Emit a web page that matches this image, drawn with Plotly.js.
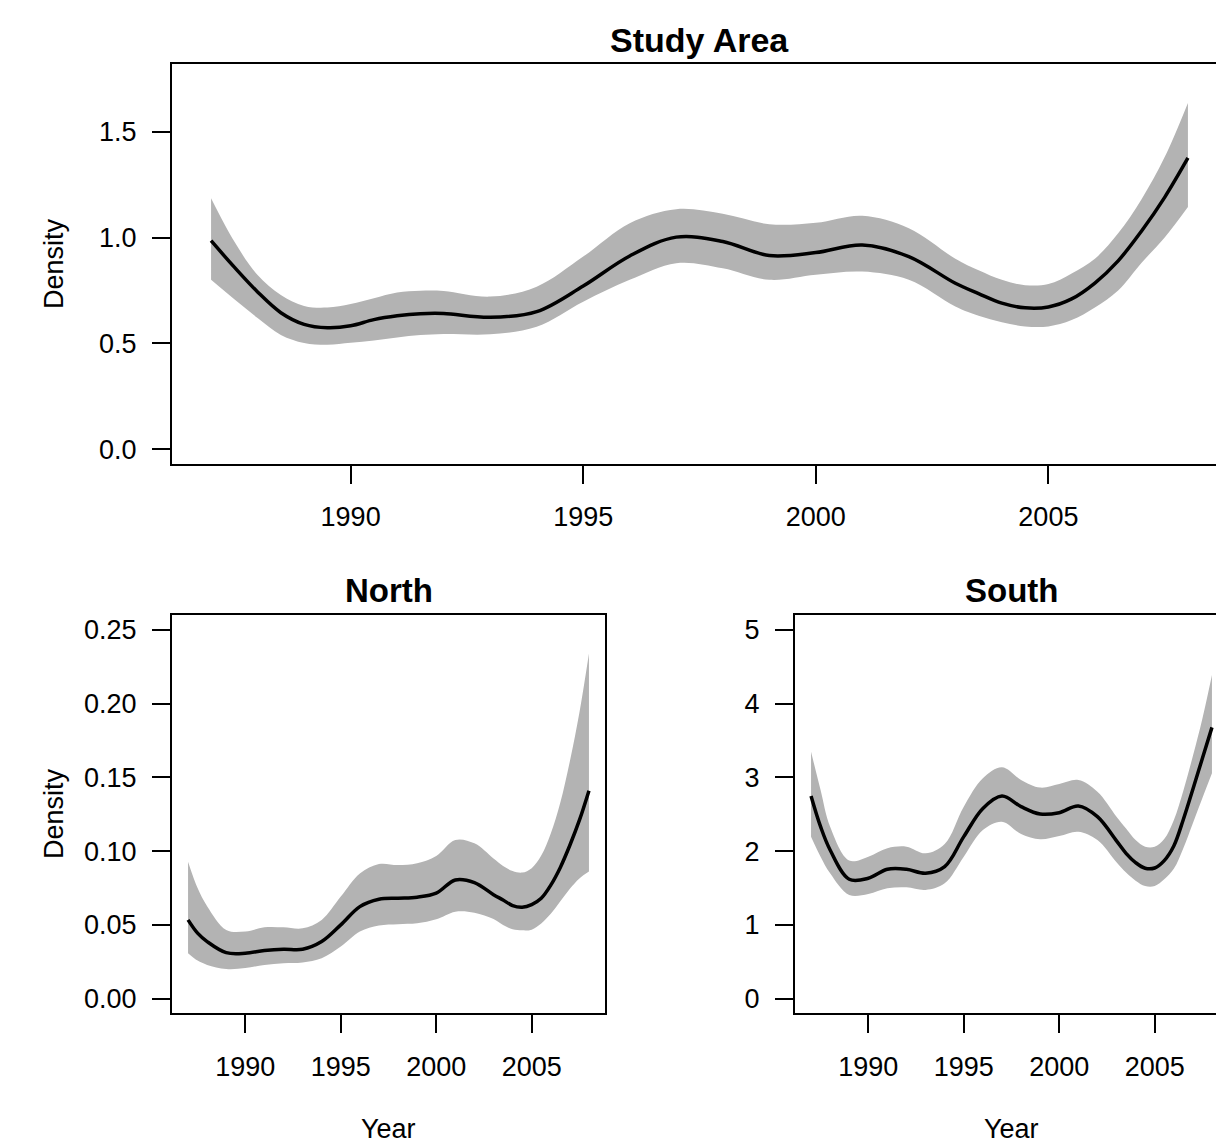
<!DOCTYPE html>
<html>
<head>
<meta charset="utf-8">
<script src="https://cdn.plot.ly/plotly-3.0.1.min.js"></script>
<style>
  html, body { margin: 0; padding: 0; background: #ffffff; overflow: hidden; }
  #chart { width: 1240px; height: 1145px; }
</style>
</head>
<body>
<div id="chart"></div>
<script>
// ---- Data ----
const studyYears = [1987, 1987.5, 1988, 1988.5, 1989, 1989.5, 1990, 1990.5, 1991, 1991.5, 1992, 1993,
                    1994, 1995, 1996, 1997, 1998, 1999, 2000, 2001, 2002, 2003, 2003.5, 2004,
                    2004.5, 2005, 2005.5, 2006, 2006.5, 2007, 2007.5, 2008];
const studyFit   = [0.985, 0.860, 0.743, 0.645, 0.590, 0.574, 0.583, 0.612, 0.630, 0.640, 0.641, 0.623,
                    0.650, 0.771, 0.913, 1.002, 0.981, 0.915, 0.929, 0.965, 0.910, 0.784, 0.735, 0.690,
                    0.668, 0.672, 0.710, 0.785, 0.890, 1.030, 1.190, 1.376];
const studyUpper = [1.186, 0.981, 0.823, 0.729, 0.677, 0.669, 0.686, 0.713, 0.740, 0.749, 0.748, 0.721,
                    0.768, 0.910, 1.068, 1.134, 1.112, 1.063, 1.070, 1.103, 1.044, 0.900, 0.845, 0.800,
                    0.775, 0.780, 0.830, 0.900, 1.020, 1.180, 1.380, 1.636];
const studyLower = [0.800, 0.708, 0.620, 0.540, 0.502, 0.494, 0.503, 0.513, 0.528, 0.539, 0.544, 0.543,
                    0.579, 0.697, 0.800, 0.879, 0.855, 0.800, 0.824, 0.839, 0.800, 0.674, 0.630, 0.600,
                    0.580, 0.580, 0.610, 0.670, 0.750, 0.880, 1.000, 1.144];

const regionYears = [1987, 1987.5, 1988, 1989, 1990, 1991, 1992, 1993, 1994, 1995, 1996, 1997,
                     1998, 1999, 2000, 2001, 2002, 2003, 2003.5, 2004, 2004.5, 2005, 2005.5, 2006,
                     2006.5, 2007, 2007.5, 2008];
const northFit   = [0.0534, 0.0444, 0.0387, 0.0312, 0.0308, 0.0326, 0.0335, 0.0335, 0.0387, 0.0500, 0.0624, 0.0674,
                    0.0681, 0.0688, 0.0715, 0.0805, 0.0787, 0.0705, 0.0669, 0.0631, 0.0620, 0.0638, 0.0681, 0.0770,
                    0.0890, 0.1040, 0.1210, 0.1410];
const northUpper = [0.0929, 0.0750, 0.0627, 0.0466, 0.0455, 0.0484, 0.0484, 0.0477, 0.0534, 0.0692, 0.0849, 0.0913,
                    0.0906, 0.0918, 0.0968, 0.1076, 0.1053, 0.0950, 0.0900, 0.0866, 0.0855, 0.0885, 0.0970, 0.1120,
                    0.1330, 0.1610, 0.1940, 0.2340];
const northLower = [0.0308, 0.0258, 0.0229, 0.0201, 0.0207, 0.0229, 0.0240, 0.0245, 0.0274, 0.0353, 0.0455, 0.0496,
                    0.0505, 0.0511, 0.0538, 0.0590, 0.0583, 0.0540, 0.0500, 0.0470, 0.0463, 0.0468, 0.0510, 0.0575,
                    0.0660, 0.0745, 0.0815, 0.0862];

const southFit   = [2.748, 2.332, 2.016, 1.619, 1.633, 1.755, 1.755, 1.700, 1.790, 2.197, 2.580, 2.748,
                    2.604, 2.504, 2.522, 2.613, 2.468, 2.140, 1.971, 1.845, 1.768, 1.772, 1.872, 2.070,
                    2.430, 2.840, 3.260, 3.679];
const southUpper = [3.349, 2.829, 2.330, 1.872, 1.926, 2.040, 2.061, 1.971, 2.097, 2.603, 2.988, 3.137,
                    2.966, 2.862, 2.911, 2.966, 2.807, 2.468, 2.306, 2.150, 2.061, 2.061, 2.165, 2.420,
                    2.820, 3.290, 3.800, 4.389];
const southLower = [2.197, 1.926, 1.700, 1.406, 1.420, 1.497, 1.510, 1.475, 1.565, 1.926, 2.287, 2.400,
                    2.233, 2.161, 2.206, 2.264, 2.152, 1.850, 1.710, 1.600, 1.528, 1.528, 1.619, 1.760,
                    2.040, 2.380, 2.720, 3.055];

const panelTitles = ["Study Area", "North", "South"];
const xTickVals = [1990, 1995, 2000, 2005];
const studyTicks = [0, 0.5, 1.0, 1.5];
const northTicks = [0, 0.05, 0.10, 0.15, 0.20, 0.25];
const southTicks = [0, 1, 2, 3, 4, 5];

// ---- Geometry ----
const W = 1240, H = 1145;
const FONT = "Liberation Sans, Arial, sans-serif";
const BAND = "#b3b3b3";

function bandTraces(xa, ya, yrs, lower, upper, fit) {
  const ln = {width: 0, shape: "spline", smoothing: 1, color: BAND};
  return [
    {x: yrs, y: lower, xaxis: xa, yaxis: ya, type: "scatter", mode: "lines", line: ln, hoverinfo: "skip"},
    {x: yrs, y: upper, xaxis: xa, yaxis: ya, type: "scatter", mode: "lines",
     fill: "tonexty", fillcolor: BAND, line: ln, hoverinfo: "skip"},
    {x: yrs, y: fit, xaxis: xa, yaxis: ya, type: "scatter", mode: "lines",
     line: {width: 3.5, shape: "spline", smoothing: 1, color: "#000000"}, hoverinfo: "skip"}
  ];
}

const data = [].concat(
  bandTraces("x", "y", studyYears, studyLower, studyUpper, studyFit),
  bandTraces("x2", "y2", regionYears, northLower, northUpper, northFit),
  bandTraces("x3", "y3", regionYears, southLower, southUpper, southFit)
);

function xAxis(domain, anchor) {
  return {
    domain: domain, anchor: anchor, range: [1986.16, 2008.84],
    tickmode: "array", tickvals: xTickVals,
    showline: true, mirror: true, linecolor: "#000", linewidth: 2,
    ticks: "outside", ticklen: 18, tickwidth: 2, tickcolor: "#000",
    ticklabelstandoff: 10,
    showgrid: false, zeroline: false,
    tickfont: {family: FONT, size: 27, color: "#000"}
  };
}
function yAxis(domain, anchor, range, vals, fmt) {
  return {
    domain: domain, anchor: anchor, range: range,
    tickmode: "array", tickvals: vals, tickformat: fmt,
    showline: true, mirror: true, linecolor: "#000", linewidth: 2,
    ticks: "outside", ticklen: 18, tickwidth: 2, tickcolor: "#000",
    ticklabelstandoff: 10,
    showgrid: false, zeroline: false,
    tickfont: {family: FONT, size: 27, color: "#000"}
  };
}

const topY = [(H - 464) / H, (H - 64) / H];
const botY = [(H - 1013.4) / H, (H - 615.2) / H];

function ann(text, px, py, size, bold, angle) {
  return {
    text: bold ? "<b>" + text + "</b>" : text,
    x: px / W, y: 1 - py / H, xref: "paper", yref: "paper",
    xanchor: "center", yanchor: "middle", showarrow: false,
    textangle: angle || 0,
    font: {family: FONT, size: size, color: "#000"}
  };
}

const layout = {
  width: W, height: H,
  margin: {l: 0, r: 0, t: 0, b: 0, pad: 0},
  paper_bgcolor: "#ffffff", plot_bgcolor: "#ffffff",
  showlegend: false, hovermode: false,
  xaxis: xAxis([172 / W, 1227 / W], "y"),
  yaxis: yAxis(topY, "x", [-0.07, 1.82], studyTicks, ".1f"),
  xaxis2: xAxis([172 / W, 605 / W], "y2"),
  yaxis2: yAxis(botY, "x2", [-0.01, 0.26], northTicks, ".2f"),
  xaxis3: xAxis([795 / W, 1228 / W], "y3"),
  yaxis3: yAxis(botY, "x3", [-0.2, 5.2], southTicks, "d"),
  annotations: [
    ann(panelTitles[0], 699.5, 40, 34, true),
    ann(panelTitles[1], 388.5, 590, 33, true),
    ann(panelTitles[2], 1011.5, 590, 33, true),
    ann("Density", 54, 264, 27, false, -90),
    ann("Density", 54, 814, 27, false, -90),
    ann("Year", 388.5, 1129, 27, false),
    ann("Year", 1011.5, 1129, 27, false)
  ]
};

Plotly.newPlot("chart", data, layout, {staticPlot: true, displayModeBar: false});
</script>
</body>
</html>
